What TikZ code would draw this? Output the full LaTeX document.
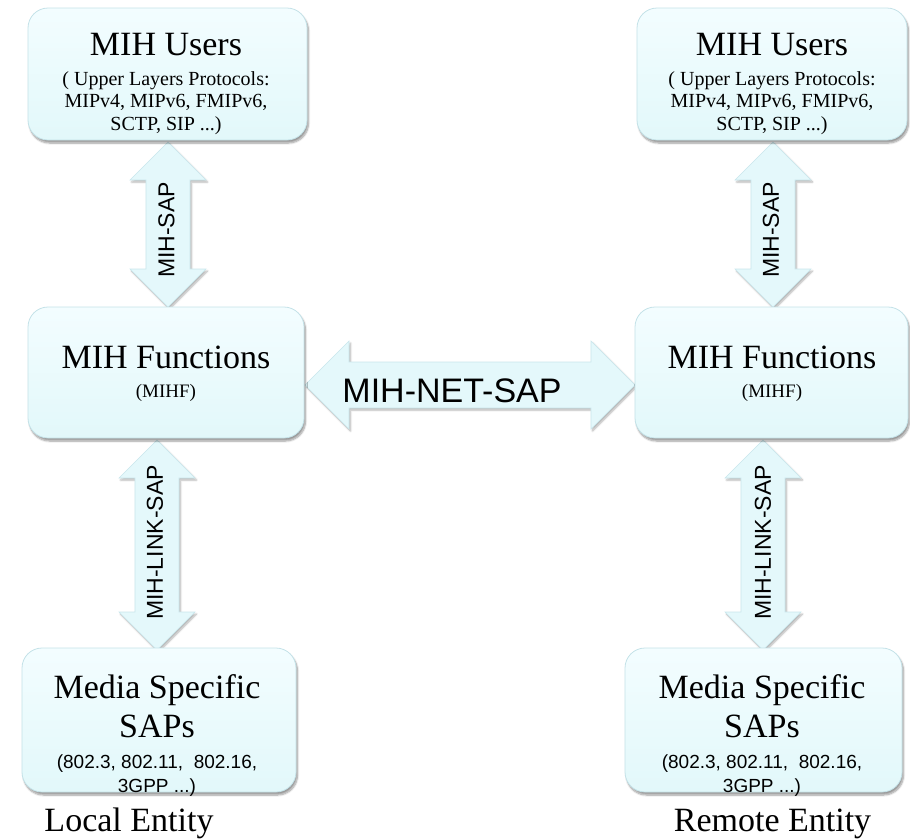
\documentclass[tikz,border=0pt]{standalone}
\usepackage{fontspec}
\setmainfont{Liberation Serif}
\setsansfont{Liberation Sans}
\usetikzlibrary{shadows.blur}

\definecolor{boxtop}{RGB}{243,253,255}
\definecolor{boxbot}{RGB}{226,248,250}
\definecolor{boxline}{RGB}{196,226,232}
\definecolor{arrowfill}{RGB}{228,248,251}
\definecolor{arrowline}{RGB}{200,230,236}

\tikzset{
  box/.style n args={2}{rounded corners=20pt, draw=boxline, line width=0.8pt,
    top color=boxtop, bottom color=boxbot, inner sep=0pt,
    minimum width=#1pt, minimum height=#2pt,
    blur shadow={shadow xshift=1.5pt, shadow yshift=-3pt, shadow blur steps=8, shadow opacity=40}},
  fatarrow/.style={fill=arrowfill, draw=arrowline, line width=0.6pt, line join=miter,
    blur shadow={shadow xshift=1.5pt, shadow yshift=-2pt, shadow blur steps=6, shadow opacity=30}},
  title/.style={font=\fontsize{34}{40}\selectfont, anchor=base, inner sep=0pt},
  subtext/.style={font=\fontsize{20}{22}\selectfont, anchor=base, inner sep=0pt},
  smalltext/.style={font=\fontsize{19}{22}\selectfont, anchor=base, inner sep=0pt},
  sanstext/.style={font=\sffamily\fontsize{19}{22}\selectfont, anchor=base, inner sep=0pt},
  saplabel/.style={font=\sffamily\fontsize{23}{26}\selectfont, rotate=90, inner sep=0pt},
  netlabel/.style={font=\sffamily\fontsize{34}{40}\selectfont, anchor=base, inner sep=0pt},
}

% vertical double block arrow: name, centre x, top tip y, bottom tip y
\newcommand\vfatarrow[4]{%
  \path[fatarrow] (#2,#3) coordinate (#1-a) -- ({#2+38},{#3+38}) -- ({#2+22},{#3+38})
    -- ({#2+22},{#4-38}) -- ({#2+38},{#4-38}) -- (#2,#4) coordinate (#1-b)
    -- ({#2-38},{#4-38}) -- ({#2-22},{#4-38}) -- ({#2-22},{#3+38})
    -- ({#2-38},{#3+38}) -- cycle;}

\begin{document}
\begin{tikzpicture}[x=1pt,y=-1pt]
\useasboundingbox (0,0) rectangle (910,839);

% service access point arrows
\vfatarrow{sapL}{168}{142}{307}
\vfatarrow{linkL}{157}{440}{650}
\vfatarrow{sapR}{773}{142}{307}
\vfatarrow{linkR}{763}{440}{650}
\path[fatarrow] (305,385) coordinate (net-a) -- (349,341) -- (349,362) -- (591,362)
  -- (591,341) -- (635,385) coordinate (net-b) -- (591,429) -- (591,408)
  -- (349,408) -- (349,429) -- cycle;

% local entity
\node[box={279}{132}] (usersL) at (167.5,74) {};
\node[title] (usersLt) at (166,55) {MIH Users};
\node[subtext] (usersLs1) at (166,85) {( Upper Layers Protocols:};
\node[subtext] (usersLs2) at (166,107.5) {MIPv4, MIPv6, FMIPv6,};
\node[subtext] (usersLs3) at (166,130) {SCTP, SIP ...)};

\node[box={276}{131}] (funcL) at (166,372.5) {};
\node[title] (funcLt) at (166,368) {MIH Functions};
\node[smalltext] (funcLs) at (166,397) {(MIHF)};

\node[box={274}{144}] (mediaL) at (159,720) {};
\node[title] (mediaLt1) at (157,698) {Media Specific};
\node[title] (mediaLt2) at (157,737) {SAPs};
\node[sanstext] (mediaLs1) at (157,768) {(802.3, 802.11,\ \ 802.16,};
\node[sanstext] (mediaLs2) at (157,792) {3GPP ...)};

\node[title] (localE) at (129,831) {Local Entity};

% remote entity
\node[box={270}{132}] (usersR) at (772,74) {};
\node[title] (usersRt) at (772,55) {MIH Users};
\node[subtext] (usersRs1) at (772,85) {( Upper Layers Protocols:};
\node[subtext] (usersRs2) at (772,107.5) {MIPv4, MIPv6, FMIPv6,};
\node[subtext] (usersRs3) at (772,130) {SCTP, SIP ...)};

\node[box={273}{131}] (funcR) at (771.5,372.5) {};
\node[title] (funcRt) at (772,368) {MIH Functions};
\node[smalltext] (funcRs) at (772,397) {(MIHF)};

\node[box={277}{144}] (mediaR) at (763.5,720) {};
\node[title] (mediaRt1) at (762,698) {Media Specific};
\node[title] (mediaRt2) at (762,737) {SAPs};
\node[sanstext] (mediaRs1) at (762,768) {(802.3, 802.11,\ \ 802.16,};
\node[sanstext] (mediaRs2) at (762,792) {3GPP ...)};

\node[title] (remoteE) at (772.5,831) {Remote Entity};

% arrow labels
\node[saplabel] (sapLl) at (166.5,230) {MIH-SAP};
\node[saplabel] (linkLl) at (155,542.5) {MIH-LINK-SAP};
\node[saplabel] (sapRl) at (771,230) {MIH-SAP};
\node[saplabel] (linkRl) at (763,542.5) {MIH-LINK-SAP};
\node[netlabel] (netl) at (452,402) {MIH-NET-SAP};
\end{tikzpicture}
\end{document}
